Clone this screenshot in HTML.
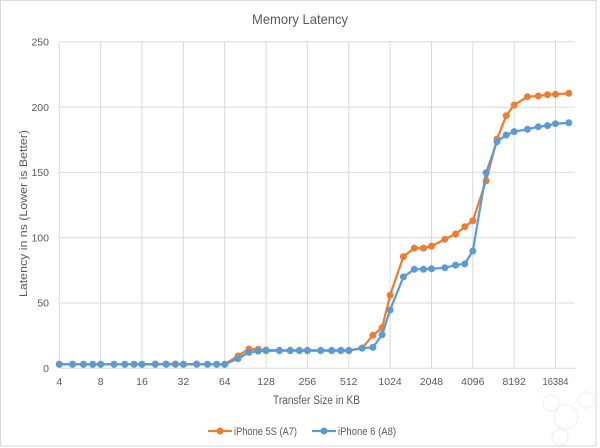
<!DOCTYPE html>
<html><head><meta charset="utf-8"><style>
html,body{margin:0;padding:0;background:#fff;}
svg{display:block;}
text{font-family:"Liberation Sans",sans-serif;fill:#595959;}
</style></head><body>
<svg width="600" height="448" viewBox="0 0 600 448" xmlns="http://www.w3.org/2000/svg">
<rect x="0" y="0" width="600" height="448" fill="#fff"/>
<rect x="0.5" y="0.5" width="595.5" height="445.5" fill="none" stroke="#d9d9d9" stroke-width="1"/>
<text x="300" y="24" font-size="14" text-anchor="middle" textLength="96" lengthAdjust="spacingAndGlyphs">Memory Latency</text>
<g stroke="#d9d9d9" stroke-width="1">
<line x1="59.3" y1="41.8" x2="575" y2="41.8"/>
<line x1="59.3" y1="107.1" x2="575" y2="107.1"/>
<line x1="59.3" y1="172.4" x2="575" y2="172.4"/>
<line x1="59.3" y1="237.7" x2="575" y2="237.7"/>
<line x1="59.3" y1="303" x2="575" y2="303"/>
<line x1="59.3" y1="368.3" x2="575" y2="368.3"/>
<line x1="59.3" y1="41.8" x2="59.3" y2="368.3"/>
<line x1="100.65" y1="41.8" x2="100.65" y2="368.3"/>
<line x1="142" y1="41.8" x2="142" y2="368.3"/>
<line x1="183.35" y1="41.8" x2="183.35" y2="368.3"/>
<line x1="224.7" y1="41.8" x2="224.7" y2="368.3"/>
<line x1="266.05" y1="41.8" x2="266.05" y2="368.3"/>
<line x1="307.4" y1="41.8" x2="307.4" y2="368.3"/>
<line x1="348.75" y1="41.8" x2="348.75" y2="368.3"/>
<line x1="390.1" y1="41.8" x2="390.1" y2="368.3"/>
<line x1="431.45" y1="41.8" x2="431.45" y2="368.3"/>
<line x1="472.8" y1="41.8" x2="472.8" y2="368.3"/>
<line x1="514.15" y1="41.8" x2="514.15" y2="368.3"/>
<line x1="555.5" y1="41.8" x2="555.5" y2="368.3"/>
</g>
<g font-size="10.5" text-anchor="end">
<text x="49" y="45.5">250</text>
<text x="49" y="110.8">200</text>
<text x="49" y="176.1">150</text>
<text x="49" y="241.4">100</text>
<text x="49" y="306.7">50</text>
<text x="49" y="372">0</text>
</g>
<g font-size="10.5" text-anchor="middle">
<text x="59.3" y="385">4</text>
<text x="100.65" y="385">8</text>
<text x="142" y="385">16</text>
<text x="183.35" y="385">32</text>
<text x="224.7" y="385">64</text>
<text x="266.05" y="385">128</text>
<text x="307.4" y="385">256</text>
<text x="348.75" y="385">512</text>
<text x="390.1" y="385">1024</text>
<text x="431.45" y="385">2048</text>
<text x="472.8" y="385">4096</text>
<text x="514.15" y="385">8192</text>
<text x="555.5" y="385" textLength="26" lengthAdjust="spacingAndGlyphs">16384</text>
</g>
<text x="316.5" y="404" font-size="11.5" text-anchor="middle" textLength="87" lengthAdjust="spacingAndGlyphs">Transfer Size in KB</text>
<text transform="translate(27,213.5) rotate(-90)" x="0" y="0" font-size="11" text-anchor="middle" textLength="167" lengthAdjust="spacingAndGlyphs">Latency in ns (Lower is Better)</text>

<polyline fill="none" stroke="#ED7D31" stroke-width="2.25" stroke-linejoin="round" points="59.3,364.2 72.6,364.2 83.5,364.2 92.7,364.2 100.7,364.2 114,364.2 124.8,364.2 134,364.2 142,364.2 155.3,364 166.2,364 175.4,364 183.4,364.2 196.7,364 207.5,364.2 216.7,364.2 224.7,364.2 238,356 248.9,349 258.1,349.4 266.1,350 279.4,350.3 290.2,350.3 299.4,350.3 307.4,350.3 320.7,350.3 331.6,350.3 340.8,350.3 348.8,350.3 362.1,348.1 372.9,335.3 382.1,327.8 390.1,295.2 403.4,256.6 414.3,248.1 423.5,248.1 431.5,246.1 444.8,239.3 455.6,234 464.8,226.7 472.8,220.7 486.1,180.8 497,139 506.2,115.7 514.2,105 527.5,96.7 538.3,96 547.5,94.7 555.5,94.3 568.8,93.3"/>
<g fill="#ED7D31">
<circle cx="59.3" cy="364.2" r="3.5"/><circle cx="72.6" cy="364.2" r="3.5"/><circle cx="83.5" cy="364.2" r="3.5"/><circle cx="92.7" cy="364.2" r="3.5"/>
<circle cx="100.7" cy="364.2" r="3.5"/><circle cx="114" cy="364.2" r="3.5"/><circle cx="124.8" cy="364.2" r="3.5"/><circle cx="134" cy="364.2" r="3.5"/>
<circle cx="142" cy="364.2" r="3.5"/><circle cx="155.3" cy="364" r="3.5"/><circle cx="166.2" cy="364" r="3.5"/><circle cx="175.4" cy="364" r="3.5"/>
<circle cx="183.4" cy="364.2" r="3.5"/><circle cx="196.7" cy="364" r="3.5"/><circle cx="207.5" cy="364.2" r="3.5"/><circle cx="216.7" cy="364.2" r="3.5"/>
<circle cx="224.7" cy="364.2" r="3.5"/><circle cx="238" cy="356" r="3.5"/><circle cx="248.9" cy="349" r="3.5"/><circle cx="258.1" cy="349.4" r="3.5"/>
<circle cx="266.1" cy="350" r="3.5"/><circle cx="279.4" cy="350.3" r="3.5"/><circle cx="290.2" cy="350.3" r="3.5"/><circle cx="299.4" cy="350.3" r="3.5"/>
<circle cx="307.4" cy="350.3" r="3.5"/><circle cx="320.7" cy="350.3" r="3.5"/><circle cx="331.6" cy="350.3" r="3.5"/><circle cx="340.8" cy="350.3" r="3.5"/>
<circle cx="348.8" cy="350.3" r="3.5"/><circle cx="362.1" cy="348.1" r="3.5"/><circle cx="372.9" cy="335.3" r="3.5"/><circle cx="382.1" cy="327.8" r="3.5"/>
<circle cx="390.1" cy="295.2" r="3.5"/><circle cx="403.4" cy="256.6" r="3.5"/><circle cx="414.3" cy="248.1" r="3.5"/><circle cx="423.5" cy="248.1" r="3.5"/>
<circle cx="431.5" cy="246.1" r="3.5"/><circle cx="444.8" cy="239.3" r="3.5"/><circle cx="455.6" cy="234" r="3.5"/><circle cx="464.8" cy="226.7" r="3.5"/>
<circle cx="472.8" cy="220.7" r="3.5"/><circle cx="486.1" cy="180.8" r="3.5"/><circle cx="497" cy="139" r="3.5"/><circle cx="506.2" cy="115.7" r="3.5"/>
<circle cx="514.2" cy="105" r="3.5"/><circle cx="527.5" cy="96.7" r="3.5"/><circle cx="538.3" cy="96" r="3.5"/><circle cx="547.5" cy="94.7" r="3.5"/>
<circle cx="555.5" cy="94.3" r="3.5"/><circle cx="568.8" cy="93.3" r="3.5"/>
</g>

<polyline fill="none" stroke="#5B9BD5" stroke-width="2.25" stroke-linejoin="round" points="59.3,364.4 72.6,364.4 83.5,364.4 92.7,364.4 100.7,364.4 114,364.4 124.8,364.4 134,364.4 142,364.4 155.3,364.4 166.2,364.4 175.4,364.4 183.4,364.4 196.7,364.4 207.5,364.4 216.7,364.4 224.7,364.4 238,358.6 248.9,352.4 258.1,351.1 266.1,350.7 279.4,350.7 290.2,350.7 299.4,350.7 307.4,350.7 320.7,350.7 331.6,350.7 340.8,350.7 348.8,350.7 362.1,348.1 372.9,347.4 382.1,334.7 390.1,310 403.4,276.9 414.3,269.3 423.5,269.3 431.5,268.7 444.8,267.7 455.6,265.1 464.8,263.9 472.8,251 486.1,172.7 497,141.7 506.2,135 514.2,131.6 527.5,129.3 538.3,126.7 547.5,125.6 555.5,123.7 568.8,122.8"/>
<g fill="#5B9BD5">
<circle cx="59.3" cy="364.4" r="3.5"/><circle cx="72.6" cy="364.4" r="3.5"/><circle cx="83.5" cy="364.4" r="3.5"/><circle cx="92.7" cy="364.4" r="3.5"/>
<circle cx="100.7" cy="364.4" r="3.5"/><circle cx="114" cy="364.4" r="3.5"/><circle cx="124.8" cy="364.4" r="3.5"/><circle cx="134" cy="364.4" r="3.5"/>
<circle cx="142" cy="364.4" r="3.5"/><circle cx="155.3" cy="364.4" r="3.5"/><circle cx="166.2" cy="364.4" r="3.5"/><circle cx="175.4" cy="364.4" r="3.5"/>
<circle cx="183.4" cy="364.4" r="3.5"/><circle cx="196.7" cy="364.4" r="3.5"/><circle cx="207.5" cy="364.4" r="3.5"/><circle cx="216.7" cy="364.4" r="3.5"/>
<circle cx="224.7" cy="364.4" r="3.5"/><circle cx="238" cy="358.6" r="3.5"/><circle cx="248.9" cy="352.4" r="3.5"/><circle cx="258.1" cy="351.1" r="3.5"/>
<circle cx="266.1" cy="350.7" r="3.5"/><circle cx="279.4" cy="350.7" r="3.5"/><circle cx="290.2" cy="350.7" r="3.5"/><circle cx="299.4" cy="350.7" r="3.5"/>
<circle cx="307.4" cy="350.7" r="3.5"/><circle cx="320.7" cy="350.7" r="3.5"/><circle cx="331.6" cy="350.7" r="3.5"/><circle cx="340.8" cy="350.7" r="3.5"/>
<circle cx="348.8" cy="350.7" r="3.5"/><circle cx="362.1" cy="348.1" r="3.5"/><circle cx="372.9" cy="347.4" r="3.5"/><circle cx="382.1" cy="334.7" r="3.5"/>
<circle cx="390.1" cy="310" r="3.5"/><circle cx="403.4" cy="276.9" r="3.5"/><circle cx="414.3" cy="269.3" r="3.5"/><circle cx="423.5" cy="269.3" r="3.5"/>
<circle cx="431.5" cy="268.7" r="3.5"/><circle cx="444.8" cy="267.7" r="3.5"/><circle cx="455.6" cy="265.1" r="3.5"/><circle cx="464.8" cy="263.9" r="3.5"/>
<circle cx="472.8" cy="251" r="3.5"/><circle cx="486.1" cy="172.7" r="3.5"/><circle cx="497" cy="141.7" r="3.5"/><circle cx="506.2" cy="135" r="3.5"/>
<circle cx="514.2" cy="131.6" r="3.5"/><circle cx="527.5" cy="129.3" r="3.5"/><circle cx="538.3" cy="126.7" r="3.5"/><circle cx="547.5" cy="125.6" r="3.5"/>
<circle cx="555.5" cy="123.7" r="3.5"/><circle cx="568.8" cy="122.8" r="3.5"/>
</g>

<line x1="208" y1="431" x2="232" y2="431" stroke="#ED7D31" stroke-width="2.25"/>
<circle cx="220" cy="431" r="3.5" fill="#ED7D31"/>
<text x="234" y="435" font-size="11" textLength="63" lengthAdjust="spacingAndGlyphs">iPhone 5S (A7)</text>
<line x1="312" y1="431" x2="336" y2="431" stroke="#5B9BD5" stroke-width="2.25"/>
<circle cx="324" cy="431" r="3.5" fill="#5B9BD5"/>
<text x="338" y="435" font-size="11" textLength="58" lengthAdjust="spacingAndGlyphs">iPhone 6 (A8)</text>

<g fill="none" stroke="#f3f3f3" stroke-width="1.5">
<circle cx="551" cy="403" r="8"/>
<circle cx="586" cy="400" r="8"/>
<circle cx="566" cy="417" r="12"/>
<circle cx="560" cy="437" r="8"/>
</g>
</svg>
</body></html>
